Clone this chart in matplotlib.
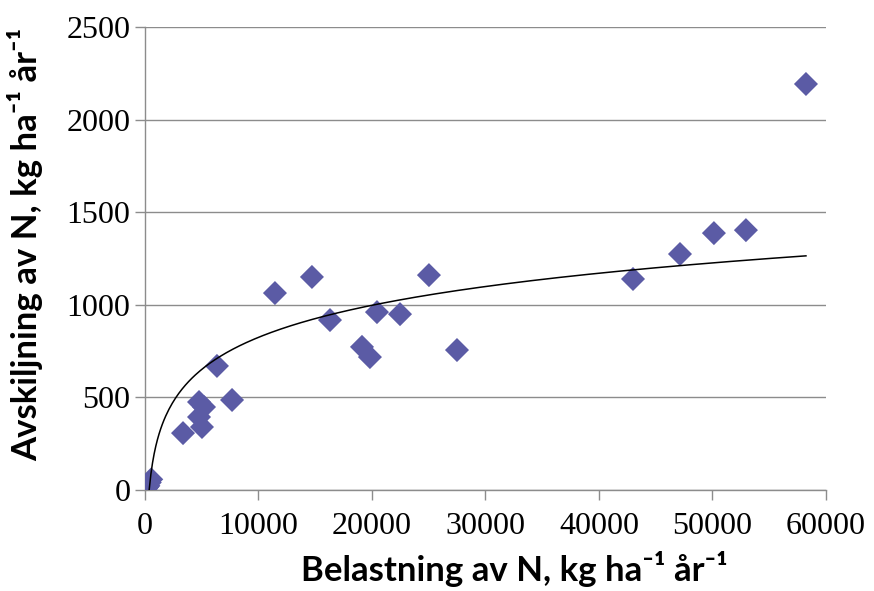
import numpy as np
import matplotlib.pyplot as plt

# N load (kg/ha/yr) and N removal (kg/ha/yr) per site
belastning = [90, 180, 300, 420, 550,
              3350, 4760, 4760, 5200, 5020, 6340, 7670,
              11450, 14710, 16300, 19120, 19820, 20440, 22470, 25020, 27490,
              43000, 47140, 50130, 52950, 58240]
avskiljning = [5, 12, 20, 38, 55,
               305, 473, 392, 446, 338, 668, 484,
               1062, 1149, 916, 771, 716, 959, 948, 1159, 754,
               1138, 1273, 1386, 1402, 2192]

# logarithmic trend line: y = a*ln(x) + b
trend_a = 250.0
trend_b = -1480.0

x_ticks = [0, 10000, 20000, 30000, 40000, 50000, 60000]
y_ticks = [0, 500, 1000, 1500, 2000, 2500]

label_font = ['Lato', 'DejaVu Sans']

fig = plt.figure(figsize=(8.74, 5.91), dpi=100)
ax = fig.add_axes([0.1659, 0.1717, 0.7791, 0.7826])

ax.scatter(belastning, avskiljning, marker='D', s=150, color='#5b5ba5',
           edgecolors='none', zorder=3)

x_start = np.exp(-trend_b / trend_a)
xs = np.linspace(x_start, max(belastning), 400)
ax.plot(xs, trend_a * np.log(xs) + trend_b, color='black', lw=1.1, zorder=4)

ax.set_xlim(0, 60000)
ax.set_ylim(0, 2500)
ax.set_xticks(x_ticks)
ax.set_yticks(y_ticks)
ax.yaxis.grid(True, color='#8c8c8c', lw=1.0)
ax.set_axisbelow(True)

for side in ['top', 'right']:
    ax.spines[side].set_visible(False)
for side in ['left', 'bottom']:
    ax.spines[side].set_color('#8c8c8c')
    ax.spines[side].set_linewidth(1.0)

ax.tick_params(direction='out', length=7, width=1.0, color='#8c8c8c',
               labelsize=23)
ax.tick_params(axis='y', pad=3.5)
ax.tick_params(axis='x', pad=9)
for lab in ax.get_xticklabels() + ax.get_yticklabels():
    lab.set_fontfamily('Liberation Serif')

ax.set_xlabel('Belastning av N, kg ha⁻¹ år⁻¹',
              fontfamily=label_font, fontweight='bold', fontsize=25)
ax.set_ylabel('Avskiljning av N, kg ha⁻¹ år⁻¹',
              fontfamily=label_font, fontweight='bold', fontsize=25)
ax.xaxis.label.set_va('baseline')
ax.yaxis.label.set_va('center')
ax.xaxis.set_label_coords(0.543, -0.198)
ax.yaxis.set_label_coords(-0.176, 0.529)

fig.savefig('out.png', dpi=100)
